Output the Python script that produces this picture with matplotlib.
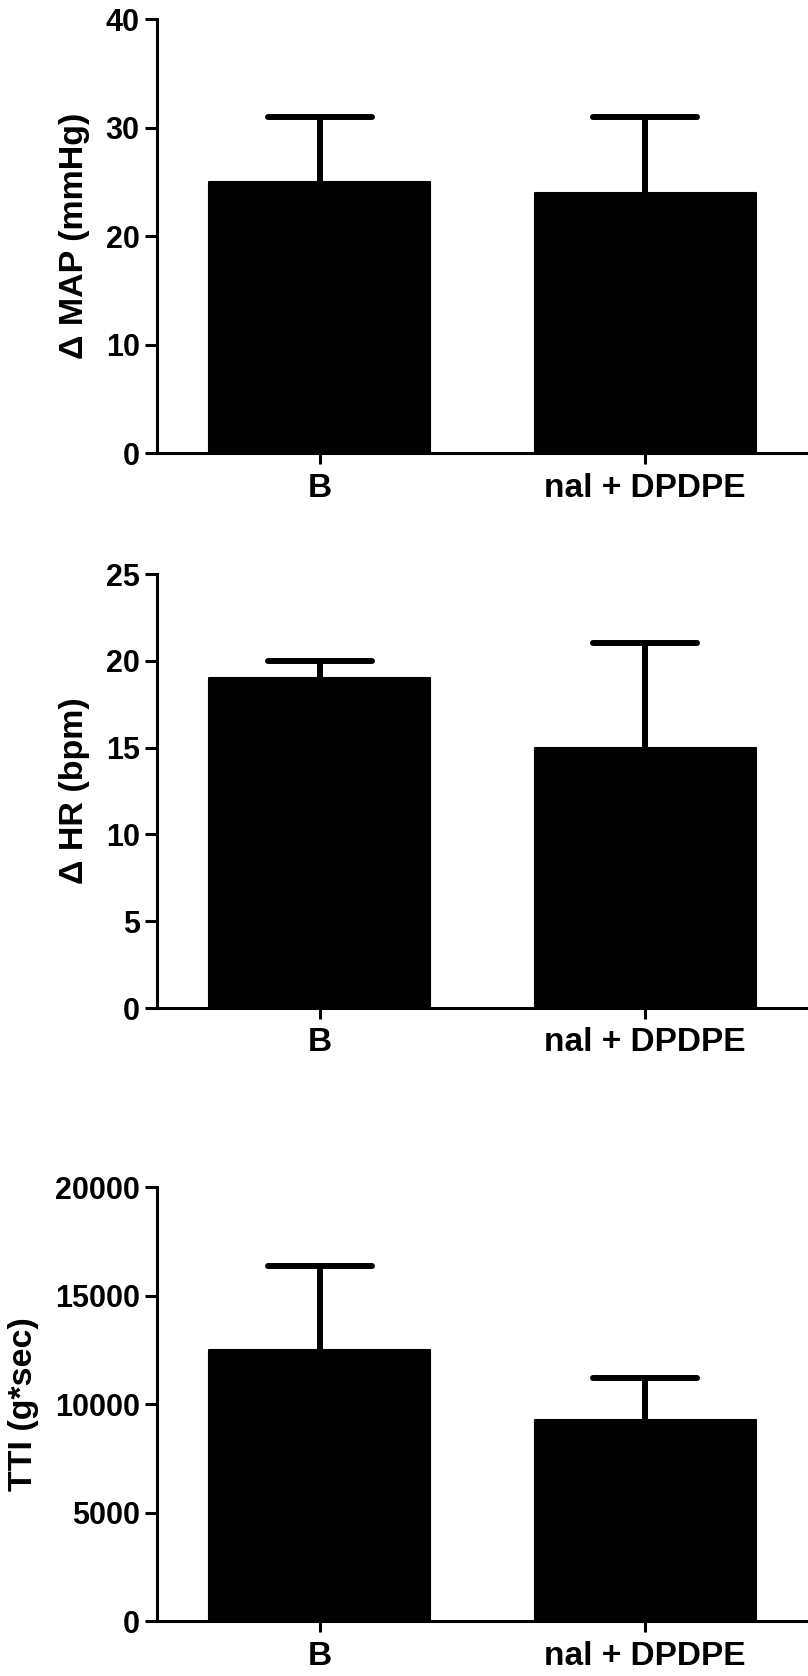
import matplotlib
matplotlib.use("Agg")
import matplotlib.pyplot as plt
import numpy as np

plt.rcParams['font.family'] = ['Liberation Sans', 'DejaVu Sans']
plt.rcParams['font.weight'] = 'bold'

groups = ['B', 'nal + DPDPE']

map_mean = [25, 24]
map_err = [6, 7]

hr_mean = [19, 15]
hr_err = [1, 6]

tti_mean = [12500, 9300]
tti_err = [3900, 1900]

panels = [
    (map_mean, map_err, 40, 10, 'Δ MAP (mmHg)'),
    (hr_mean, hr_err, 25, 5, 'Δ HR (bpm)'),
    (tti_mean, tti_err, 20000, 5000, 'TTI (g*sec)'),
]

W, H = 808, 1676
fig = plt.figure(figsize=(W / 100, H / 100), dpi=100)

bottoms_px = [453.2, 1008, 1621.4]
ax_h = 434
left = 157

x = np.arange(len(groups))
cap_half = 0.16

for (mean, err, ymax, step, label), bpx in zip(panels, bottoms_px):
    ax = fig.add_axes([left / W, 1 - bpx / H, (W - left) / W, ax_h / H])
    ax.bar(x, mean, width=0.68, color='black', edgecolor='black',
           linewidth=1.5, joinstyle='round', zorder=2)

    # upper-only error bars (GraphPad style)
    tops = np.array(mean) + np.array(err)
    ax.vlines(x, mean, tops, color='black', linewidth=4.3, zorder=1)
    for xi, t in zip(x, tops):
        ax.plot([xi - cap_half, xi + cap_half], [t, t], color='black',
                linewidth=4.3, solid_capstyle='round', zorder=1)

    ax.set_xlim(-0.5, 1.5)
    ax.set_ylim(0, ymax)
    ax.set_yticks(np.arange(0, ymax + step, step))
    ax.set_xticks(x)
    ax.set_xticklabels(groups)
    ax.set_ylabel(label, fontsize=24.5, fontweight='bold', labelpad=11)

    for s in ['top', 'right']:
        ax.spines[s].set_visible(False)
    for s in ['left', 'bottom']:
        ax.spines[s].set_linewidth(2.2)
    ax.tick_params(axis='y', length=8.5, width=2.2, pad=4, labelsize=22)
    ax.tick_params(axis='x', length=8, width=2.2, pad=6, labelsize=24)

fig.savefig('out.png', dpi=100)
